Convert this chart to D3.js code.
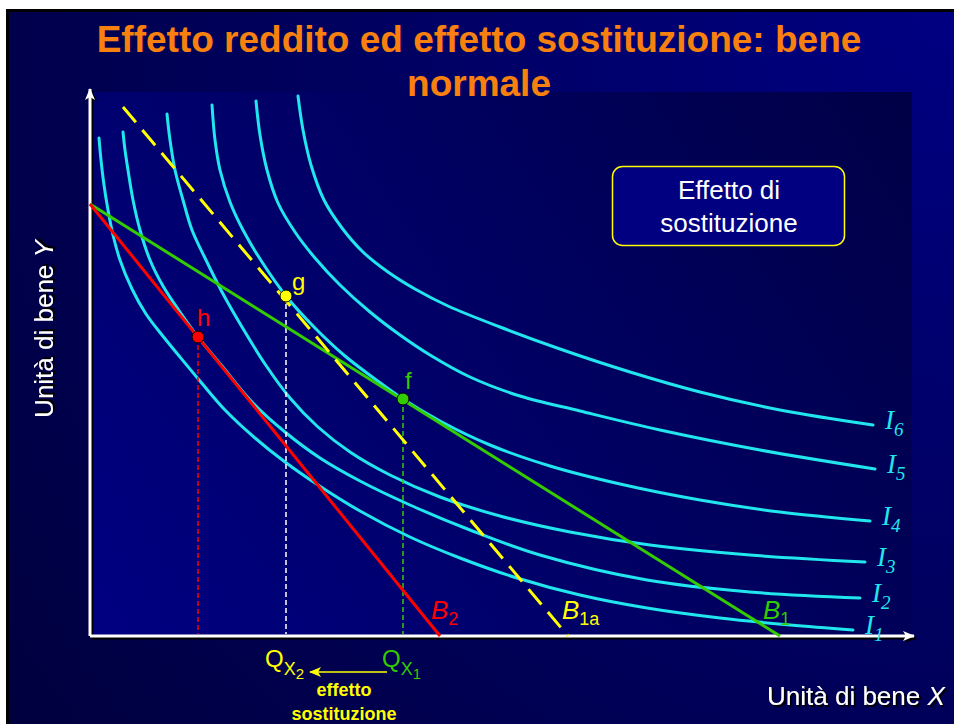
<!DOCTYPE html>
<html>
<head>
<meta charset="utf-8">
<script src="https://cdn.jsdelivr.net/npm/d3@7"></script>
<style>
  body { margin: 0; background: #fff; }
  svg { display: block; font-family: Arial, "Liberation Sans", sans-serif; }
</style>
</head>
<body>
<div id="chart"></div>
<script>
// indifference curves, [quantity X, quantity Y]
const curveI1 = [[0.9, 49.8], [1.1, 47.6], [1.4, 45.1], [1.8, 42.6], [2.3, 40.1], [3.0, 37.6], [4.2, 34.7], [5.6, 32.2], [7.2, 30.1], [9.0, 27.9], [11.0, 25.5], [13.5, 22.6], [16.5, 19.8], [19.5, 17.4], [22.8, 15.1], [27.0, 12.5], [32.0, 9.9], [37.0, 7.8], [42.7, 5.8], [49.0, 4.1], [55.7, 2.8], [63.0, 1.8], [70.0, 1.1], [76.3, 0.6]];
const curveI2 = [[3.3, 50.4], [3.5, 48.6], [3.8, 46.6], [4.3, 43.6], [5.0, 40.6], [6.0, 37.6], [7.3, 35.0], [9.0, 32.4], [10.8, 29.9], [13.2, 27.0], [16.2, 23.4], [19.5, 20.4], [23.0, 17.8], [27.0, 15.5], [32.0, 13.1], [38.0, 10.6], [45.0, 8.1], [55.7, 5.6], [66.0, 4.4], [77.0, 3.8]];
const curveI3 = [[7.7, 52.2], [8.0, 49.6], [8.5, 46.6], [9.3, 43.6], [10.2, 40.6], [11.5, 37.8], [13.2, 34.4], [15.2, 30.9], [17.5, 27.2], [20.0, 23.8], [22.8, 20.9], [26.0, 18.4], [30.0, 16.1], [35.0, 13.9], [41.0, 12.0], [48.0, 10.4], [56.0, 9.1], [66.0, 8.1], [77.5, 7.4]];
const curveI4 = [[12.2, 53.1], [12.5, 49.6], [13.0, 46.6], [14.0, 43.4], [15.3, 40.6], [17.2, 37.4], [19.6, 34.0], [22.5, 30.8], [25.5, 28.0], [28.5, 25.7], [31.3, 23.7], [35.0, 21.5], [40.0, 19.1], [46.0, 17.0], [53.0, 15.2], [61.0, 13.6], [69.0, 12.4], [78.0, 11.5]];
const curveI5 = [[16.6, 53.5], [17.0, 50.1], [17.7, 46.6], [18.8, 43.3], [20.5, 40.4], [22.5, 37.8], [25.0, 35.1], [28.0, 32.4], [31.0, 30.1], [34.0, 28.1], [38.0, 25.9], [43.0, 24.0], [49.0, 22.5], [57.0, 20.6], [67.0, 18.6], [78.5, 16.7]];
const curveI6 = [[20.8, 54.0], [21.3, 50.6], [22.1, 47.1], [23.4, 43.6], [25.2, 40.8], [27.3, 38.4], [29.8, 36.4], [32.5, 34.7], [35.8, 33.0], [41.0, 30.9], [47.0, 28.7], [54.0, 26.4], [61.0, 24.4], [69.0, 22.6], [78.3, 21.1]];
const curveNames = ["1", "2", "3", "4", "5", "6"];

// budget lines (intercepts)
const budgetB1 = [[0, 43.2], [69.0, 0]];
const budgetB2 = [[0, 43.2], [35.0, 0]];
const budgetB1a = [[3.3, 52.9], [47.8, 0]];

// optimum points
const pointF = [31.3, 23.7];
const pointG = [19.6, 34.0];
const pointH = [10.8, 29.9];

const titleLines = ["Effetto reddito ed effetto sostituzione: bene", "normale"];

const W = 954, H = 724;
const cyan = "#22e6ee", green = "#33cc00", red = "#ff0000", yellow = "#ffff00";

const svg = d3.select("#chart").append("svg")
    .attr("width", W)
    .attr("height", H);
const defs = svg.append("defs");

// backgrounds
const bgGrad = defs.append("radialGradient")
    .attr("id", "bgGrad")
    .attr("gradientUnits", "userSpaceOnUse")
    .attr("cx", 954).attr("cy", 12).attr("r", 1190);
bgGrad.append("stop").attr("offset", 0).attr("stop-color", "#000082");
bgGrad.append("stop").attr("offset", 1).attr("stop-color", "#00003e");

const plotGrad = defs.append("linearGradient")
    .attr("id", "plotGrad")
    .attr("gradientUnits", "userSpaceOnUse")
    .attr("x1", 912).attr("y1", 92).attr("x2", 90).attr("y2", 636);
plotGrad.append("stop").attr("offset", 0).attr("stop-color", "#000046");
plotGrad.append("stop").attr("offset", 1).attr("stop-color", "#000082");

// text shadow
defs.append("filter")
    .attr("id", "shadow")
    .attr("x", "-10%").attr("y", "-10%").attr("width", "130%").attr("height", "130%")
    .append("feDropShadow")
    .attr("dx", 2).attr("dy", 2).attr("stdDeviation", 0.6)
    .attr("flood-color", "#000").attr("flood-opacity", 1);

svg.append("rect").attr("width", W).attr("height", H).attr("fill", "#fff");
svg.append("rect").attr("x", 6).attr("y", 9).attr("width", W - 6).attr("height", H - 9).attr("fill", "#000");
svg.append("rect").attr("x", 9).attr("y", 12).attr("width", W - 9).attr("height", H - 12).attr("fill", "url(#bgGrad)");

const x = d3.scaleLinear().domain([0, 82.2]).range([90, 912]);
const y = d3.scaleLinear().domain([0, 54.4]).range([636, 92]);

svg.append("rect")
    .attr("x", x(0)).attr("y", y(54.4))
    .attr("width", x(82.2) - x(0)).attr("height", y(0) - y(54.4))
    .attr("fill", "url(#plotGrad)");

// title
svg.append("g").selectAll("text")
    .data(titleLines)
    .enter().append("text")
    .attr("x", 479)
    .attr("y", (d, i) => 52 + i * 44)
    .attr("text-anchor", "middle")
    .attr("font-size", 37)
    .attr("font-weight", "bold")
    .attr("fill", "#f7800f")
    .text(d => d);

// axes with shadow
function arrowHead(id, color) {
    defs.append("marker")
        .attr("id", id)
        .attr("markerUnits", "userSpaceOnUse")
        .attr("viewBox", "0 0 12 10")
        .attr("refX", 11).attr("refY", 5)
        .attr("markerWidth", 12).attr("markerHeight", 10)
        .attr("orient", "auto")
        .append("path")
        .attr("d", "M0,0 L12,5 L0,10 L3,5 Z")
        .attr("fill", color);
}
arrowHead("arrWhite", "#fff");
arrowHead("arrBlack", "#000");
arrowHead("arrYellow", yellow);

const axes = svg.append("g");
[["#000", 2, "arrBlack"], ["#fff", 0, "arrWhite"]].forEach(([col, off, mk]) => {
    axes.append("line")
        .attr("x1", x(0) + off).attr("y1", y(0) + off)
        .attr("x2", x(0) + off).attr("y2", y(54.4) - 3 + off)
        .attr("stroke", col).attr("stroke-width", 3)
        .attr("marker-end", `url(#${mk})`);
    axes.append("line")
        .attr("x1", x(0) + off).attr("y1", y(0) + off)
        .attr("x2", x(82.2) + 2 + off).attr("y2", y(0) + off)
        .attr("stroke", col).attr("stroke-width", 3)
        .attr("marker-end", `url(#${mk})`);
});

// indifference curves
const line = d3.line()
    .x(d => x(d[0]))
    .y(d => y(d[1]))
    .curve(d3.curveCatmullRom.alpha(0.5));

const curves = [curveI1, curveI2, curveI3, curveI4, curveI5, curveI6];
svg.append("g").selectAll("path")
    .data(curves)
    .enter().append("path")
    .attr("d", line)
    .attr("fill", "none")
    .attr("stroke", cyan)
    .attr("stroke-width", 3)
    .attr("stroke-linecap", "round");

const curveLabels = svg.append("g").selectAll("text")
    .data(curves)
    .enter().append("text")
    .attr("x", d => x(d[d.length - 1][0]) + 12)
    .attr("y", d => y(d[d.length - 1][1]) + 4)
    .attr("font-family", "'Liberation Serif', 'Times New Roman', serif")
    .attr("font-style", "italic")
    .attr("font-size", 27)
    .attr("fill", cyan);
curveLabels.append("tspan").text("I");
curveLabels.append("tspan")
    .attr("font-size", 19)
    .attr("dy", 7)
    .text((d, i) => curveNames[i]);

// vertical drop lines
const drops = [[pointH, red], [pointG, "#fff"], [pointF, green]];
svg.append("g").selectAll("line")
    .data(drops)
    .enter().append("line")
    .attr("x1", d => x(d[0][0])).attr("x2", d => x(d[0][0]))
    .attr("y1", d => y(d[0][1])).attr("y2", y(0) - 2)
    .attr("stroke", d => d[1])
    .attr("stroke-width", 1.5)
    .attr("stroke-dasharray", "5,3");

// budget lines
const budgets = [
    { pts: budgetB1, color: green, dash: null, name: "B", sub: "1", dx: -17 },
    { pts: budgetB2, color: red, dash: null, name: "B", sub: "2", dx: -9 },
    { pts: budgetB1a, color: yellow, dash: "20,10", name: "B", sub: "1a", dx: -6 }
];
const straight = d3.line().x(d => x(d[0])).y(d => y(d[1]));
svg.append("g").selectAll("path")
    .data(budgets)
    .enter().append("path")
    .attr("d", d => straight(d.pts))
    .attr("fill", "none")
    .attr("stroke", d => d.color)
    .attr("stroke-width", 3)
    .attr("stroke-dasharray", d => d.dash);

const budgetLabels = svg.append("g").selectAll("text")
    .data(budgets)
    .enter().append("text")
    .attr("x", d => x(d.pts[1][0]) + d.dx)
    .attr("y", y(0) - 17)
    .attr("fill", d => d.color)
    .attr("font-size", 26);
budgetLabels.append("tspan").attr("font-style", "italic").text(d => d.name);
budgetLabels.append("tspan").attr("font-size", 18).attr("dy", 6).text(d => d.sub);

// points
const points = [
    { p: pointH, color: red, label: "h", dx: -1, dy: -11 },
    { p: pointG, color: yellow, label: "g", dx: 6, dy: -6 },
    { p: pointF, color: green, label: "f", dx: 2, dy: -10 }
];
svg.append("g").selectAll("circle")
    .data(points)
    .enter().append("circle")
    .attr("cx", d => x(d.p[0]))
    .attr("cy", d => y(d.p[1]))
    .attr("r", 6)
    .attr("fill", d => d.color)
    .attr("stroke", "#000")
    .attr("stroke-width", 1);
svg.append("g").selectAll("text")
    .data(points)
    .enter().append("text")
    .attr("x", d => x(d.p[0]) + d.dx)
    .attr("y", d => y(d.p[1]) + d.dy)
    .attr("fill", d => d.color)
    .attr("font-size", 24)
    .text(d => d.label);

// quantity labels under the axis
const qLabels = [
    { p: pointG, color: yellow, sub: "2" },
    { p: pointF, color: green, sub: "1" }
];
const qText = svg.append("g").selectAll("text")
    .data(qLabels)
    .enter().append("text")
    .attr("x", d => x(d.p[0]) - 21)
    .attr("y", 667)
    .attr("fill", d => d.color)
    .attr("font-size", 24);
qText.append("tspan").text("Q");
qText.append("tspan").attr("font-size", 18).attr("dy", 8).text("X");
qText.append("tspan").attr("font-size", 15).attr("dy", 4).text(d => d.sub);

svg.append("line")
    .attr("x1", x(pointF[0]) - 16).attr("y1", 672)
    .attr("x2", x(pointG[0]) + 24).attr("y2", 672)
    .attr("stroke", yellow).attr("stroke-width", 1.5)
    .attr("marker-end", "url(#arrYellow)");

svg.append("g").selectAll("text")
    .data(["effetto", "sostituzione"])
    .enter().append("text")
    .attr("x", 344)
    .attr("y", (d, i) => 696 + i * 24)
    .attr("text-anchor", "middle")
    .attr("font-size", 18)
    .attr("font-weight", "bold")
    .attr("fill", yellow)
    .text(d => d);

// legend box
svg.append("rect")
    .attr("x", 612.5).attr("y", 166.5)
    .attr("width", 232).attr("height", 79)
    .attr("rx", 10)
    .attr("fill", "#000080")
    .attr("stroke", yellow)
    .attr("stroke-width", 1.5);
svg.append("g").selectAll("text")
    .data(["Effetto di", "sostituzione"])
    .enter().append("text")
    .attr("x", 729)
    .attr("y", (d, i) => 199 + i * 33)
    .attr("text-anchor", "middle")
    .attr("font-size", 26)
    .attr("fill", "#fff")
    .text(d => d);

// axis titles
const tx = svg.append("text")
    .attr("x", 767).attr("y", 705)
    .attr("font-size", 26)
    .attr("fill", "#fff")
    .attr("filter", "url(#shadow)");
tx.append("tspan").text("Unità di bene ");
tx.append("tspan").attr("font-style", "italic").text("X");

const ty = svg.append("text")
    .attr("transform", "translate(53,329) rotate(-90)")
    .attr("text-anchor", "middle")
    .attr("font-size", 26)
    .attr("fill", "#fff")
    .attr("filter", "url(#shadow)");
ty.append("tspan").text("Unità di bene ");
ty.append("tspan").attr("font-style", "italic").text("Y");
</script>
</body>
</html>
